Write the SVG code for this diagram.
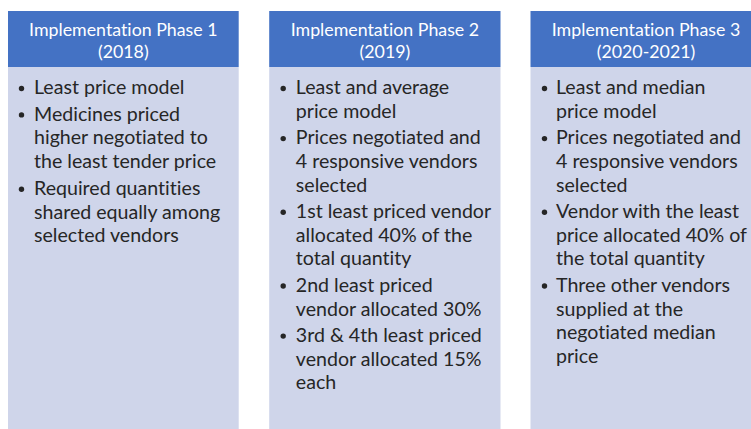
<svg xmlns="http://www.w3.org/2000/svg" width="751" height="429" viewBox="0 0 751 429">
<style>
.hd{fill:#4472C4}
.bd{fill:#CFD5EA}
.ht{font-family:Lato,"Open Sans","Liberation Sans",sans-serif;font-size:17.8px;fill:#FFFFFF;text-anchor:middle;font-variant-ligatures:none}
.bt{font-family:Lato,"Open Sans","Liberation Sans",sans-serif;font-size:19.6px;fill:#262626;font-variant-ligatures:none}
.bl{fill:#262626}
</style>
<rect width="751" height="429" fill="#FFFFFF"/>
<g id="phase1">
<rect class="bd" x="8" y="67" width="230.7" height="370"/>
<rect class="hd" x="8" y="11" width="230.7" height="56"/>
<text class="ht" x="123.3" y="35.7">Implementation Phase 1</text>
<text class="ht" x="123.3" y="57.5">(2018)</text>
<circle class="bl" cx="21.5" cy="88.5" r="2.7"/>
<text class="bt" x="34" y="94.3">Least price model</text>
<circle class="bl" cx="21.5" cy="114.9" r="2.7"/>
<text class="bt" x="34" y="120.7">Medicines priced</text>
<text class="bt" x="34" y="144.4">higher negotiated to</text>
<text class="bt" x="34" y="168">the least tender price</text>
<circle class="bl" cx="21.5" cy="189.2" r="2.7"/>
<text class="bt" x="34" y="195">Required quantities</text>
<text class="bt" x="34" y="218.7">shared equally among</text>
<text class="bt" x="34" y="242.4">selected vendors</text>
</g>
<g id="phase2">
<rect class="bd" x="269.2" y="67" width="231.3" height="370"/>
<rect class="hd" x="269.2" y="11" width="231.3" height="56"/>
<text class="ht" x="384.9" y="35.7">Implementation Phase 2</text>
<text class="ht" x="384.9" y="57.5">(2019)</text>
<circle class="bl" cx="283.2" cy="88.5" r="2.7"/>
<text class="bt" x="295.8" y="94.3">Least and average</text>
<text class="bt" x="295.8" y="118">price model</text>
<circle class="bl" cx="283.2" cy="138.6" r="2.7"/>
<text class="bt" x="295.8" y="144.4">Prices negotiated and</text>
<text class="bt" x="295.8" y="168">4 responsive vendors</text>
<text class="bt" x="295.8" y="191.7">selected</text>
<circle class="bl" cx="283.2" cy="212.2" r="2.7"/>
<text class="bt" x="295.8" y="218">1st least priced vendor</text>
<text class="bt" x="295.8" y="241.7">allocated 40% of the</text>
<text class="bt" x="295.8" y="265.4">total quantity</text>
<circle class="bl" cx="283.2" cy="286" r="2.7"/>
<text class="bt" x="295.8" y="291.8">2nd least priced</text>
<text class="bt" x="295.8" y="315.5">vendor allocated 30%</text>
<circle class="bl" cx="283.2" cy="336.1" r="2.7"/>
<text class="bt" x="295.8" y="341.9">3rd &amp; 4th least priced</text>
<text class="bt" x="295.8" y="365.6">vendor allocated 15%</text>
<text class="bt" x="295.8" y="389.3">each</text>
</g>
<g id="phase3">
<rect class="bd" x="530.5" y="67" width="231" height="370"/>
<rect class="hd" x="530.5" y="11" width="231" height="56"/>
<text class="ht" x="646" y="35.7">Implementation Phase 3</text>
<text class="ht" x="646" y="57.5">(2020-2021)</text>
<circle class="bl" cx="544.5" cy="88.5" r="2.7"/>
<text class="bt" x="556" y="94.3">Least and median</text>
<text class="bt" x="556" y="118">price model</text>
<circle class="bl" cx="544.5" cy="138.6" r="2.7"/>
<text class="bt" x="556" y="144.4">Prices negotiated and</text>
<text class="bt" x="556" y="168">4 responsive vendors</text>
<text class="bt" x="556" y="191.7">selected</text>
<circle class="bl" cx="544.5" cy="212.2" r="2.7"/>
<text class="bt" x="556" y="218">Vendor with the least</text>
<text class="bt" x="556" y="241.7">price allocated 40% of</text>
<text class="bt" x="556" y="265.4">the total quantity</text>
<circle class="bl" cx="544.5" cy="286" r="2.7"/>
<text class="bt" x="556" y="291.8">Three other vendors</text>
<text class="bt" x="556" y="315.5">supplied at the</text>
<text class="bt" x="556" y="339.2">negotiated median</text>
<text class="bt" x="556" y="362.9">price</text>
</g>
<g id="connectors"></g>
</svg>
